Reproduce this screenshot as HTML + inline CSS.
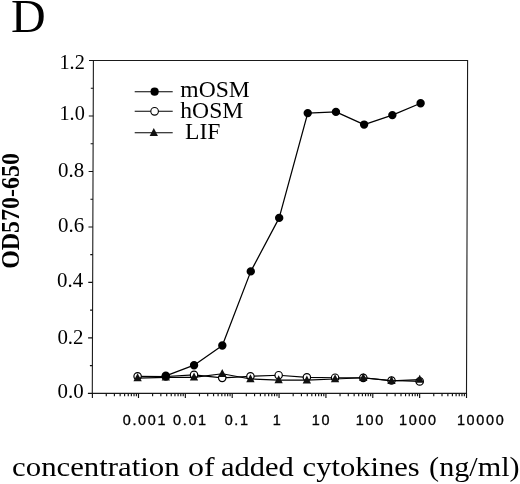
<!DOCTYPE html>
<html><head><meta charset="utf-8"><title>D</title>
<style>html,body{margin:0;padding:0;background:#fff}svg{display:block}text{fill:#000}.sa{stroke:#000;stroke-width:.35px}
.se{font-family:"Liberation Serif","Times New Roman",serif}
.sa{font-family:"Liberation Sans",Arial,sans-serif}</style></head><body>
<svg width="520" height="484" viewBox="0 0 520 484">
<rect width="520" height="484" fill="#fff"/>
<g transform="matrix(1 0 -0.0033 1 1.298 0)">
<rect x="92.3" y="60.5" width="374.2" height="332.9" fill="none" stroke="#1a1a1a" stroke-width="1.1"/>
<path d="M87.90 393.40H92.3 M89.80 365.66H92.3 M87.90 337.92H92.3 M89.80 310.17H92.3 M87.90 282.43H92.3 M89.80 254.69H92.3 M87.90 226.95H92.3 M89.80 199.21H92.3 M87.90 171.47H92.3 M89.80 143.72H92.3 M87.90 115.98H92.3 M89.80 88.24H92.3 M87.90 60.50H92.3 M92.40 393.4V398.00 M106.28 393.4V396.20 M114.40 393.4V396.20 M120.15 393.4V396.20 M124.62 393.4V396.20 M128.27 393.4V396.20 M131.36 393.4V396.20 M134.03 393.4V396.20 M136.39 393.4V396.20 M138.50 393.4V398.00 M152.61 393.4V396.20 M160.86 393.4V396.20 M166.71 393.4V396.20 M171.25 393.4V396.20 M174.96 393.4V396.20 M178.10 393.4V396.20 M180.82 393.4V396.20 M183.22 393.4V396.20 M185.36 393.4V398.00 M199.47 393.4V396.20 M207.72 393.4V396.20 M213.57 393.4V396.20 M218.11 393.4V396.20 M221.82 393.4V396.20 M224.96 393.4V396.20 M227.68 393.4V396.20 M230.08 393.4V396.20 M232.22 393.4V398.00 M246.33 393.4V396.20 M254.58 393.4V396.20 M260.43 393.4V396.20 M264.97 393.4V396.20 M268.68 393.4V396.20 M271.82 393.4V396.20 M274.54 393.4V396.20 M276.94 393.4V396.20 M279.08 393.4V398.00 M293.19 393.4V396.20 M301.44 393.4V396.20 M307.29 393.4V396.20 M311.83 393.4V396.20 M315.54 393.4V396.20 M318.68 393.4V396.20 M321.40 393.4V396.20 M323.80 393.4V396.20 M325.94 393.4V398.00 M340.05 393.4V396.20 M348.30 393.4V396.20 M354.15 393.4V396.20 M358.69 393.4V396.20 M362.40 393.4V396.20 M365.54 393.4V396.20 M368.26 393.4V396.20 M370.66 393.4V396.20 M372.80 393.4V398.00 M386.91 393.4V396.20 M395.16 393.4V396.20 M401.01 393.4V396.20 M405.55 393.4V396.20 M409.26 393.4V396.20 M412.40 393.4V396.20 M415.12 393.4V396.20 M417.52 393.4V396.20 M419.66 393.4V398.00 M433.77 393.4V396.20 M442.02 393.4V396.20 M447.87 393.4V396.20 M452.41 393.4V396.20 M456.12 393.4V396.20 M459.26 393.4V396.20 M461.98 393.4V396.20 M464.38 393.4V396.20 M466.52 393.4V398.00" stroke="#111" stroke-width="1.15" fill="none"/>
<polyline points="137.55,376.31 165.75,376.48 193.96,374.90 222.17,377.86 250.38,376.31 278.60,375.20 306.81,377.31 335.02,377.70 363.23,377.86 391.45,380.50 419.66,381.39" fill="none" stroke="#000" stroke-width="1.15" stroke-linejoin="round"/>
<circle cx="137.55" cy="376.31" r="3.7" fill="#fff" stroke="#000" stroke-width="1.2"/>
<circle cx="165.75" cy="376.48" r="3.7" fill="#fff" stroke="#000" stroke-width="1.2"/>
<circle cx="193.96" cy="374.90" r="3.7" fill="#fff" stroke="#000" stroke-width="1.2"/>
<circle cx="222.17" cy="377.86" r="3.7" fill="#fff" stroke="#000" stroke-width="1.2"/>
<circle cx="250.38" cy="376.31" r="3.7" fill="#fff" stroke="#000" stroke-width="1.2"/>
<circle cx="278.60" cy="375.20" r="3.7" fill="#fff" stroke="#000" stroke-width="1.2"/>
<circle cx="306.81" cy="377.31" r="3.7" fill="#fff" stroke="#000" stroke-width="1.2"/>
<circle cx="335.02" cy="377.70" r="3.7" fill="#fff" stroke="#000" stroke-width="1.2"/>
<circle cx="363.23" cy="377.86" r="3.7" fill="#fff" stroke="#000" stroke-width="1.2"/>
<circle cx="391.45" cy="380.50" r="3.7" fill="#fff" stroke="#000" stroke-width="1.2"/>
<circle cx="419.66" cy="381.39" r="3.7" fill="#fff" stroke="#000" stroke-width="1.2"/>
<polyline points="137.55,378.14 165.75,377.31 193.96,377.31 222.17,373.79 250.38,378.97 278.60,380.08 306.81,380.19 335.02,378.97 363.23,377.70 391.45,380.92 419.66,379.67" fill="none" stroke="#000" stroke-width="1.15" stroke-linejoin="round"/>
<path d="M137.55 373.34L141.70 381.34H133.40Z" fill="#111"/>
<path d="M165.75 372.51L169.90 380.51H161.60Z" fill="#111"/>
<path d="M193.96 372.51L198.11 380.51H189.81Z" fill="#111"/>
<path d="M222.17 368.99L226.32 376.99H218.02Z" fill="#111"/>
<path d="M250.38 374.17L254.53 382.17H246.23Z" fill="#111"/>
<path d="M278.60 375.28L282.75 383.28H274.45Z" fill="#111"/>
<path d="M306.81 375.39L310.96 383.39H302.66Z" fill="#111"/>
<path d="M335.02 374.17L339.17 382.17H330.87Z" fill="#111"/>
<path d="M363.23 372.90L367.38 380.90H359.08Z" fill="#111"/>
<path d="M391.45 376.12L395.60 384.12H387.30Z" fill="#111"/>
<path d="M419.66 374.87L423.81 382.87H415.51Z" fill="#111"/>
<polyline points="165.75,375.81 193.96,365.19 222.17,345.49 250.38,271.39 278.60,217.88 306.81,113.10 335.02,111.88 363.23,124.58 391.45,115.10 419.66,103.28" fill="none" stroke="#000" stroke-width="1.25" stroke-linejoin="round"/>
<circle cx="165.75" cy="375.81" r="4.2" fill="#000"/>
<circle cx="193.96" cy="365.19" r="4.2" fill="#000"/>
<circle cx="222.17" cy="345.49" r="4.2" fill="#000"/>
<circle cx="250.38" cy="271.39" r="4.2" fill="#000"/>
<circle cx="278.60" cy="217.88" r="4.2" fill="#000"/>
<circle cx="306.81" cy="113.10" r="4.2" fill="#000"/>
<circle cx="335.02" cy="111.88" r="4.2" fill="#000"/>
<circle cx="363.23" cy="124.58" r="4.2" fill="#000"/>
<circle cx="391.45" cy="115.10" r="4.2" fill="#000"/>
<circle cx="419.66" cy="103.28" r="4.2" fill="#000"/>
</g>
<text class="se" x="84.8" y="68.65" font-size="20.3" text-anchor="end">1.2</text>
<text class="se" x="84.8" y="120.45" font-size="20.3" text-anchor="end">1.0</text>
<text class="se" x="84.1" y="177.05" font-size="20.9" text-anchor="end">0.8</text>
<text class="se" x="84.1" y="231.65" font-size="20.9" text-anchor="end">0.6</text>
<text class="se" x="83.2" y="287.35" font-size="20.9" text-anchor="end">0.4</text>
<text class="se" x="83.5" y="344.15" font-size="20.9" text-anchor="end">0.2</text>
<text class="se" x="83.7" y="398.45" font-size="20.9" text-anchor="end">0.0</text>
<text class="sa" transform="translate(144.9 425) scale(0.93 0.97)" font-size="15.5" letter-spacing="1.8" text-anchor="middle">0.001</text>
<text class="sa" transform="translate(190.4 425) scale(0.93 0.97)" font-size="15.5" letter-spacing="1.8" text-anchor="middle">0.01</text>
<text class="sa" transform="translate(237.2 425) scale(0.93 0.97)" font-size="15.5" letter-spacing="1.8" text-anchor="middle">0.1</text>
<text class="sa" transform="translate(277.7 425) scale(0.93 0.97)" font-size="15.5" letter-spacing="1.8" text-anchor="middle">1</text>
<text class="sa" transform="translate(321.5 425) scale(0.93 0.97)" font-size="15.5" letter-spacing="1.8" text-anchor="middle">10</text>
<text class="sa" transform="translate(370.4 425) scale(0.93 0.97)" font-size="15.5" letter-spacing="1.8" text-anchor="middle">100</text>
<text class="sa" transform="translate(418.4 425) scale(0.93 0.97)" font-size="15.5" letter-spacing="1.8" text-anchor="middle">1000</text>
<text class="sa" transform="translate(481.1 425) scale(0.93 0.97)" font-size="15.5" letter-spacing="1.8" text-anchor="middle">10000</text>
<path d="M134.7 91.7H172.7" stroke="#000" stroke-width="1.05"/>
<path d="M134.7 111.3H172.7" stroke="#000" stroke-width="1.05"/>
<path d="M134.7 132.7H172.7" stroke="#000" stroke-width="1.05"/>
<circle cx="154.6" cy="91.7" r="4.1" fill="#000"/>
<circle cx="154.6" cy="111.3" r="3.8" fill="#fff" stroke="#000" stroke-width="1.1"/>
<path d="M153.80 127.90L157.95 135.90H149.65Z" fill="#111"/>
<text class="se" x="180.3" y="96.7" font-size="23.6">mOSM</text>
<text class="se" x="180.3" y="118.1" font-size="23.6">hOSM</text>
<text class="se" x="185.1" y="138.8" font-size="23.6">LIF</text>
<text class="se" transform="translate(11.05 32.35) scale(1.03 1)" font-size="46.6">D</text>
<text class="se" y="475.55" font-size="28.1"><tspan x="12.10" textLength="167.47" lengthAdjust="spacingAndGlyphs">concentration</tspan> <tspan x="188.06" textLength="26.60" lengthAdjust="spacingAndGlyphs">of</tspan> <tspan x="221.00" textLength="72.89" lengthAdjust="spacingAndGlyphs">added</tspan> <tspan x="302.60" textLength="117.15" lengthAdjust="spacingAndGlyphs">cytokines</tspan> <tspan x="429.12" textLength="90.55" lengthAdjust="spacingAndGlyphs">(ng/ml)</tspan></text>
<text class="se" transform="translate(18.85 268.8) rotate(-90) scale(0.936 1)" font-size="25.6" font-weight="bold">OD570-650</text>
</svg></body></html>
